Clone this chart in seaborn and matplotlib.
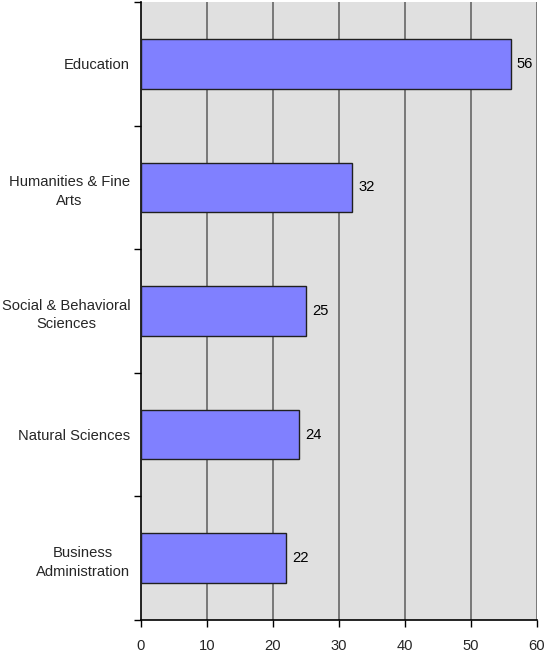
import matplotlib
matplotlib.use("Agg")
import matplotlib.pyplot as plt
import seaborn as sns
import pandas as pd
import numpy as np

categories = ["Education", "Humanities & Fine\nArts", "Social & Behavioral\nSciences",
              "Natural Sciences", "Business\nAdministration"]
values = [56, 32, 25, 24, 22]
x_ticks = [0, 10, 20, 30, 40, 50, 60]

sns.set_style("white")
plt.rcParams["font.family"] = ["Liberation Sans", "DejaVu Sans"]
FS = 10.6

df = pd.DataFrame({"category": categories, "value": values})

fig = plt.figure(figsize=(5.44, 6.56), dpi=100)
ax = fig.add_axes([141 / 544, 36 / 656, 396 / 544, 618 / 656])
ax.set_facecolor("#E0E0E0")

sns.barplot(data=df, y="category", x="value", orient="h", color="#8080FF",
            saturation=1, edgecolor="#202020", linewidth=1.0, width=0.4, ax=ax, zorder=3)

for i, v in enumerate(values):
    ax.text(v + 0.9, i, f"{v}", va="center", ha="left", fontsize=FS, color="black")

ax.set_xlim(0, 60)
ax.set_ylim(len(categories) - 0.5, -0.5)
ax.set_xticks(x_ticks)
ax.set_xticklabels([str(t) for t in x_ticks], fontsize=FS)
ax.tick_params(axis="x", bottom=True, direction="out", length=5, width=1,
               color="black", pad=9)

ax.set_yticks(range(len(categories)))
ax.set_yticklabels(categories, fontsize=FS, ha="right", multialignment="center",
                   linespacing=1.45)
ax.tick_params(axis="y", which="major", left=True, length=0, pad=7.8)
ax.set_yticks(np.arange(-0.5, len(categories) + 0.5, 1), minor=True)
ax.tick_params(axis="y", which="minor", left=True, direction="out", length=5,
               width=1, color="black")

for x in x_ticks[1:]:
    ax.axvline(x, color="#707070", linewidth=1.3, zorder=1)

ax.set_xlabel("")
ax.set_ylabel("")
for side in ["left", "bottom"]:
    ax.spines[side].set_color("black")
    ax.spines[side].set_linewidth(1.2)
    ax.spines[side].set_visible(True)
ax.spines["top"].set_visible(False)
ax.spines["right"].set_visible(False)

fig.savefig("out.png", dpi=100)
